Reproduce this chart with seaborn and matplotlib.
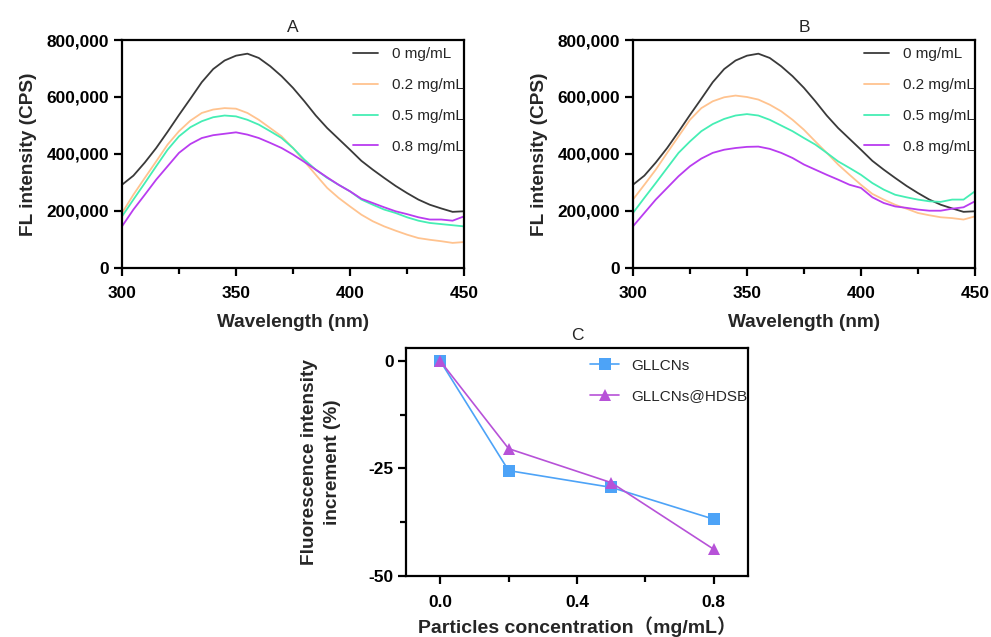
import numpy as np
import pandas as pd
import matplotlib
matplotlib.use("Agg")
import matplotlib.pyplot as plt
import seaborn as sns
from matplotlib.ticker import FuncFormatter, MultipleLocator

# ---------------- data ----------------
wavelength = list(range(300, 451, 5))
labels = ["0 mg/mL", "0.2 mg/mL", "0.5 mg/mL", "0.8 mg/mL"]
colors = ["#3a3a3a", "#ffc38f", "#45eeb4", "#b93cf0"]

a_0 = [292, 324, 370, 421, 478, 537, 594, 652, 698, 728, 745, 752, 737, 708, 673, 632,
       585, 535, 491, 453, 415, 376, 345, 316, 288, 263, 240, 222, 209, 197, 199]
a_02 = [193, 257, 316, 374, 433, 480, 517, 544, 556, 561, 559, 544, 520, 491, 462, 421,
        374, 327, 281, 246, 216, 187, 164, 146, 131, 117, 105, 99, 94, 88, 91]
a_05 = [181, 240, 298, 357, 415, 462, 494, 515, 529, 535, 532, 520, 503, 480, 456, 421,
        380, 345, 316, 292, 269, 240, 222, 205, 193, 178, 166, 158, 154, 150, 146]
a_08 = [146, 205, 257, 310, 357, 404, 435, 456, 466, 471, 476, 468, 456, 439, 421, 398,
        372, 345, 318, 292, 269, 243, 228, 213, 199, 189, 178, 170, 170, 166, 181]

b_0 = [292, 324, 370, 421, 478, 537, 594, 652, 698, 728, 745, 752, 737, 708, 673, 632,
       585, 535, 491, 453, 415, 376, 345, 316, 288, 263, 240, 222, 209, 197, 199]
b_02 = [240, 292, 345, 404, 462, 520, 561, 585, 599, 605, 600, 591, 573, 550, 520, 485,
        444, 404, 363, 327, 292, 260, 240, 222, 208, 193, 185, 178, 175, 170, 181]
b_05 = [193, 246, 298, 351, 404, 444, 480, 505, 523, 535, 540, 535, 520, 500, 480, 456,
        433, 404, 374, 351, 327, 298, 275, 257, 248, 240, 234, 232, 240, 240, 269]
b_08 = [146, 193, 240, 281, 322, 357, 384, 404, 415, 421, 425, 426, 418, 404, 386, 363,
        345, 327, 310, 292, 281, 248, 228, 216, 211, 205, 201, 201, 208, 213, 234]

conc = [0.0, 0.2, 0.5, 0.8]
gllcns = [0.0, -25.5, -29.4, -36.8]
gllcns_hdsb = [0.0, -20.4, -28.3, -43.8]
series_c = ["GLLCNs", "GLLCNs@HDSB"]
colors_c = ["#4da3f7", "#b752d8"]

# ---------------- style ----------------
sns.set_theme(style="ticks")
plt.rcParams["font.family"] = ["Liberation Sans", "Noto Sans CJK SC", "DejaVu Sans"]
plt.rcParams["axes.linewidth"] = 1.6
for k in ["xtick.major.width", "ytick.major.width", "xtick.minor.width", "ytick.minor.width"]:
    plt.rcParams[k] = 1.6
plt.rcParams["xtick.color"] = "black"
plt.rcParams["ytick.color"] = "black"
plt.rcParams["axes.edgecolor"] = "black"

TICK_FS = 12.4
LABEL_FS = 13.7
LEG_FS = 11

fig = plt.figure(figsize=(9.91, 6.37), dpi=100)
ax_a = fig.add_axes([0.1231, 0.5793, 0.3451, 0.3579])
ax_b = fig.add_axes([0.6387, 0.5793, 0.3451, 0.3579])
ax_c = fig.add_axes([0.4097, 0.0958, 0.3451, 0.3579])


def spectra_df(cols):
    rows = []
    for lab, vals in zip(labels, cols):
        for w, v in zip(wavelength, vals):
            rows.append({"Wavelength": w, "Intensity": v * 1000, "Conc": lab})
    return pd.DataFrame(rows)


def style_spectrum(ax, title):
    ax.set_xlim(300, 450)
    ax.set_ylim(0, 800000)
    ax.xaxis.set_major_locator(MultipleLocator(50))
    ax.xaxis.set_minor_locator(MultipleLocator(25))
    ax.yaxis.set_major_locator(MultipleLocator(200000))
    ax.yaxis.set_major_formatter(FuncFormatter(lambda v, p: f"{int(v):,}"))
    ax.tick_params(axis="y", which="major", length=6, labelsize=TICK_FS, pad=3)
    ax.tick_params(axis="x", which="major", length=6, labelsize=TICK_FS, pad=7)
    ax.tick_params(axis="x", which="minor", length=4)
    for lab in ax.get_xticklabels() + ax.get_yticklabels():
        lab.set_fontweight("bold")
    ax.set_xlabel("Wavelength (nm)", fontsize=LABEL_FS, fontweight="bold", labelpad=9)
    ax.set_ylabel("FL intensity (CPS)", fontsize=LABEL_FS, fontweight="bold", labelpad=7)
    ax.set_title(title, fontsize=12.5, pad=6)
    for s in ax.spines.values():
        s.set_visible(True)
        s.set_linewidth(1.6)
    leg = ax.legend(loc="upper right", bbox_to_anchor=(1.03, 1.015), frameon=False,
                    fontsize=LEG_FS, handlelength=1.65, handletextpad=0.9,
                    labelspacing=1.1, borderaxespad=0.3)
    for line in leg.get_lines():
        line.set_linewidth(1.3)


for ax, cols, title in [(ax_a, [a_0, a_02, a_05, a_08], "A"),
                        (ax_b, [b_0, b_02, b_05, b_08], "B")]:
    df = spectra_df(cols)
    sns.lineplot(data=df, x="Wavelength", y="Intensity", hue="Conc",
                 hue_order=labels, palette=colors, estimator=None,
                 linewidth=1.3, ax=ax)
    style_spectrum(ax, title)

# Panel C
rows = []
for name, vals in zip(series_c, [gllcns, gllcns_hdsb]):
    for x, v in zip(conc, vals):
        rows.append({"Conc": x, "Inc": v, "Series": name})
df_c = pd.DataFrame(rows)
sns.lineplot(data=df_c, x="Conc", y="Inc", hue="Series", style="Series",
             hue_order=series_c, style_order=series_c, palette=colors_c,
             markers=["s", "^"], dashes=False, markersize=8, markeredgewidth=0,
             linewidth=1.2, estimator=None, ax=ax_c)
ax_c.set_xlim(-0.1, 0.9)
ax_c.set_ylim(-50, 3)
ax_c.xaxis.set_major_locator(MultipleLocator(0.4))
ax_c.xaxis.set_minor_locator(MultipleLocator(0.2))
ax_c.xaxis.set_major_formatter(FuncFormatter(lambda v, p: f"{v:.1f}"))
ax_c.yaxis.set_major_locator(MultipleLocator(25))
ax_c.yaxis.set_minor_locator(MultipleLocator(12.5))
ax_c.yaxis.set_major_formatter(FuncFormatter(lambda v, p: f"{int(round(v))}"))
ax_c.tick_params(axis="y", which="major", length=6, labelsize=TICK_FS, pad=3)
ax_c.tick_params(axis="x", which="major", length=6, labelsize=TICK_FS, pad=8)
ax_c.tick_params(axis="both", which="minor", length=4)
for lab in ax_c.get_xticklabels() + ax_c.get_yticklabels():
    lab.set_fontweight("bold")
for s in ax_c.spines.values():
    s.set_visible(True)
    s.set_linewidth(1.6)
ax_c.set_title("C", fontsize=12.5, pad=6)
ax_c.set_xlabel("Particles concentration（mg/mL）", fontsize=14, fontweight="bold", labelpad=4)
ax_c.set_ylabel("Fluorescence intensity\nincrement (%)", fontsize=LABEL_FS,
                fontweight="bold", labelpad=20, linespacing=1.45)
ax_c.legend(loc="upper right", bbox_to_anchor=(1.03, 1.0), frameon=False,
            fontsize=LEG_FS, handlelength=1.9, handletextpad=0.8,
            labelspacing=1.1, borderaxespad=0.3)

fig.savefig("out.png", dpi=100)
